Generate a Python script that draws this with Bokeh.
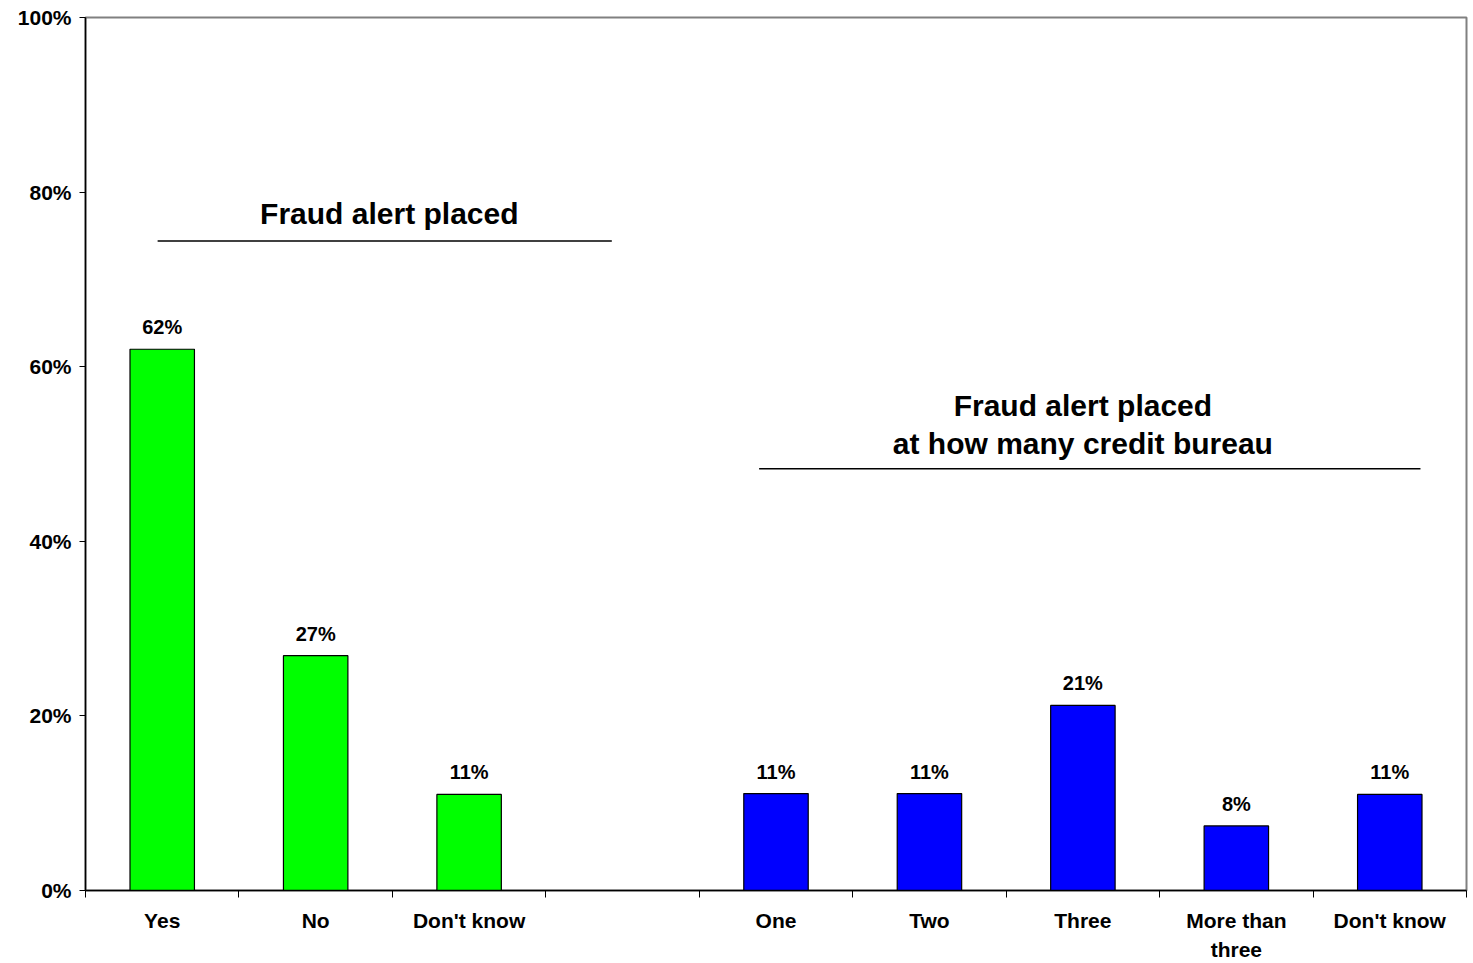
from bokeh.plotting import figure
from bokeh.models import ColumnDataSource, FixedTicker, Range1d
from bokeh.core.properties import value
from bokeh.embed import file_html
from bokeh.resources import INLINE

# ---- data ----
group1_cats = ["Yes", "No", "Don't know"]
group1_vals = [62.0, 26.9, 11.0]
group1_labels = ["62%", "27%", "11%"]

group2_cats = ["One", "Two", "Three", "More than\nthree", "Don't know"]
group2_vals = [11.1, 11.1, 21.2, 7.4, 11.0]
group2_labels = ["11%", "11%", "21%", "8%", "11%"]

y_ticks = [0, 20, 40, 60, 80, 100]
y_tick_labels = ["0%", "20%", "40%", "60%", "80%", "100%"]

title1 = "Fraud alert placed"
title2_lines = ["Fraud alert placed", "at how many credit bureau"]

# slot layout: group 1, one empty slot, group 2
slots = group1_cats + [""] + group2_cats
n_slots = len(slots)
x1 = [i + 0.5 for i in range(len(group1_cats))]
x2 = [len(group1_cats) + 1 + i + 0.5 for i in range(len(group2_cats))]

FONT = "Liberation Sans"

p = figure(width=1468, height=963, output_backend="svg", toolbar_location=None,
           x_range=Range1d(0, n_slots), y_range=Range1d(0, 100),
           min_border_left=85, min_border_right=2, min_border_top=17, min_border_bottom=72)
p.background_fill_color = "white"
p.border_fill_color = "white"
p.outline_line_color = "#808080"
p.outline_line_width = 2
p.grid.visible = False

src1 = ColumnDataSource(dict(x=x1, top=group1_vals, lab=group1_labels))
src2 = ColumnDataSource(dict(x=x2, top=group2_vals, lab=group2_labels))

bw = 0.42
p.vbar(x="x", top="top", width=bw, bottom=0, source=src1,
       fill_color="#00FF00", line_color="black", line_width=1.2)
p.vbar(x="x", top="top", width=bw, bottom=0, source=src2,
       fill_color="#0000FF", line_color="black", line_width=1.2)

for s in (src1, src2):
    p.text(x="x", y="top", text="lab", source=s, text_align="center",
           text_baseline="bottom", y_offset=-11, text_font=value(FONT),
           text_font_style="bold", text_font_size="20px", text_color="black")

# group titles and underline rules
t1_x, t1_y = 1.98, 77.6
p.text(x=[t1_x], y=[t1_y], text=[title1], text_align="center", text_baseline="middle",
       text_font=value(FONT), text_font_style="bold", text_font_size="30px", text_color="black")
p.line(x=[0.47, 3.43], y=[74.4, 74.4], line_color="black", line_width=1.5)

t2_x = 6.5
p.text(x=[t2_x, t2_x], y=[55.6, 51.2], text=title2_lines, text_align="center",
       text_baseline="middle", text_font=value(FONT), text_font_style="bold",
       text_font_size="30px", text_color="black")
p.line(x=[4.39, 8.70], y=[48.3, 48.3], line_color="black", line_width=1.5)

# y axis
ya = p.yaxis[0]
ya.ticker = FixedTicker(ticks=y_ticks, minor_ticks=[])
ya.major_label_overrides = {t: l for t, l in zip(y_ticks, y_tick_labels)}
ya.major_label_text_font = FONT
ya.major_label_text_font_style = "bold"
ya.major_label_text_font_size = "21px"
ya.major_label_text_color = "black"
ya.major_tick_out = 6
ya.major_tick_in = 0
ya.major_tick_line_color = "black"
ya.axis_line_color = "black"
ya.axis_line_width = 1.5
ya.major_label_standoff = 8

# x axis: labels at slot centres, small ticks at slot boundaries
xa = p.xaxis[0]
centers = [i + 0.5 for i in range(n_slots) if slots[i] != ""]
xa.ticker = FixedTicker(ticks=centers, minor_ticks=list(range(n_slots + 1)))
xa.major_label_overrides = {i + 0.5: slots[i] for i in range(n_slots) if slots[i] != ""}
xa.major_label_text_font = FONT
xa.major_label_text_font_style = "bold"
xa.major_label_text_font_size = "21px"
xa.major_label_text_color = "black"
xa.major_label_text_line_height = 1.28
xa.major_tick_out = 0
xa.major_tick_in = 0
xa.minor_tick_out = 7
xa.minor_tick_in = 0
xa.minor_tick_line_color = "black"
xa.axis_line_color = "black"
xa.axis_line_width = 1.5
xa.major_label_standoff = 11

open("out.html", "w").write(file_html(p, INLINE))
